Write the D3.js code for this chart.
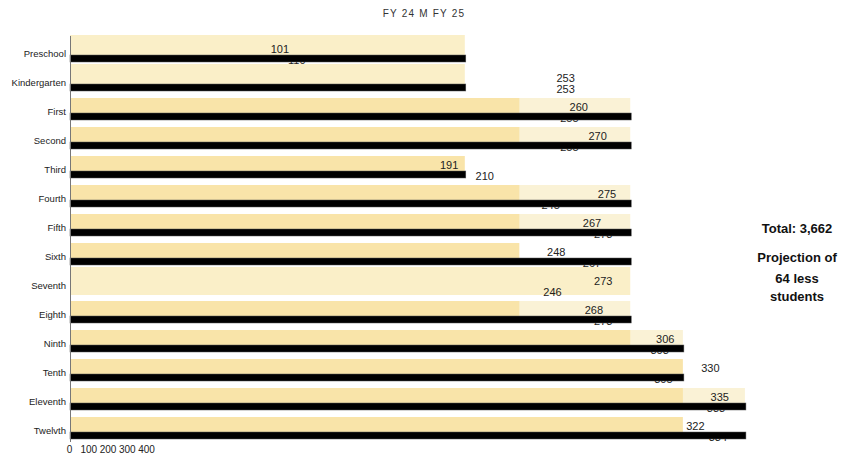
<!DOCTYPE html>
<html>
<head>
<meta charset="utf-8">
<script src="https://cdn.jsdelivr.net/npm/d3@7"></script>
<style>
  body { margin: 0; background: #fff; }
  svg { font-family: "Liberation Sans", Arial, sans-serif; }
</style>
</head>
<body>
<svg width="851" height="454"></svg>
<script>
var grades = ['Preschool', 'Kindergarten', 'First', 'Second', 'Third', 'Fourth', 'Fifth',
    'Sixth', 'Seventh', 'Eighth', 'Ninth', 'Tenth', 'Eleventh', 'Twelvth'];

// printed values
var fy24 = [101, 253, 260, 270, 191, 275, 267, 248, 273, 268, 306, 330, 335, 322];
var fy25 = [110, 253, 255, 255, 210, 245, 273, 267, 246, 273, 303, 305, 333, 334];

// bar lengths as drawn (they do not follow the printed values)
var goldBar  = [0, 0, 239, 239, 210, 239, 239, 239, 0, 239, 298, 326, 326, 326];
var creamBar = [210, 210, 298, 298, 0, 298, 298, 0, 298, 298, 326, 0, 359, 0];
var blackBar = [210, 210, 298, 298, 210, 298, 298, 298, 0, 298, 326, 326, 359, 359];

var axisTicks = [0, 100, 200, 300, 400];
var legendText = 'FY 24 M FY 25';
var sideText = ['Total: 3,662', 'Projection of', '64 less', 'students'];

var svg = d3.select('svg');

var x = d3.scaleLinear().domain([0, 400]).range([70, 822]);
var y = d3.scaleBand().domain(grades).range([40, 446]);

var rows = grades.map(function (g, i) {
    return { g: g, gold: goldBar[i], cream: creamBar[i], black: blackBar[i], a: fy24[i], b: fy25[i] };
});

var row = svg.selectAll('g.row').data(rows).enter().append('g')
    .attr('class', 'row')
    .attr('transform', function (d) { return 'translate(0,' + y(d.g) + ')'; });

// cream layer
row.filter(function (d) { return d.cream > 0; })
    .append('rect')
    .attr('x', x(0))
    .attr('y', function (d) { return d.gold > 0 ? 0 : -5; })
    .attr('width', function (d) { return x(d.cream) - x(0); })
    .attr('height', function (d) {
        if (d.gold > 0) return 15;
        return d.black > 0 ? 21 : 28;
    })
    .attr('fill', function (d) { return d.gold > 0 ? '#faf2d6' : '#faefc8'; });

// gold layer
row.filter(function (d) { return d.gold > 0; })
    .append('rect')
    .attr('x', x(0))
    .attr('y', 0)
    .attr('width', function (d) { return x(d.gold) - x(0); })
    .attr('height', 15)
    .attr('fill', '#f9e4a9');

// labels (second one sits under the black bar)
row.append('text')
    .attr('x', function (d) { return x(d.a) + 20; })
    .attr('y', 9)
    .attr('dy', '0.35em')
    .attr('text-anchor', 'middle')
    .attr('font-size', 11)
    .attr('fill', '#222')
    .text(function (d) { return d.a; });

row.append('text')
    .attr('x', function (d) { return x(d.b) + 20; })
    .attr('y', 20)
    .attr('dy', '0.35em')
    .attr('text-anchor', 'middle')
    .attr('font-size', 11)
    .attr('fill', '#222')
    .text(function (d) { return d.b; });

// black layer
row.filter(function (d) { return d.black > 0; })
    .append('rect')
    .attr('x', x(0))
    .attr('y', 15)
    .attr('width', function (d) { return x(d.black) - x(0) + 1; })
    .attr('height', 7)
    .attr('fill', '#000')
    .attr('stroke', '#555')
    .attr('stroke-width', 0.5);

// category labels
row.append('text')
    .attr('x', 66)
    .attr('y', 14)
    .attr('dy', '0.35em')
    .attr('text-anchor', 'end')
    .attr('font-size', 9.5)
    .attr('fill', '#222')
    .text(function (d) { return d.g; });

// y axis line
svg.append('line')
    .attr('x1', 70.5).attr('x2', 70.5)
    .attr('y1', 36).attr('y2', 442)
    .attr('stroke', '#777');

// squeezed x axis labels
var xs = d3.scaleLinear().domain([0, 400]).range([69, 146]);
var ax = svg.append('g')
    .attr('transform', 'translate(0,441)')
    .call(d3.axisBottom(xs).tickValues(axisTicks).tickSize(0).tickPadding(5));
ax.select('.domain').remove();
ax.selectAll('text').attr('font-size', 10).attr('fill', '#222')
    .attr('font-family', '"Liberation Sans", Arial, sans-serif');

// legend line
svg.append('text')
    .attr('x', 424).attr('y', 17)
    .attr('text-anchor', 'middle')
    .attr('font-size', 10)
    .attr('letter-spacing', 1.2)
    .attr('fill', '#333')
    .text(legendText);

// side notes
var sideY = [228, 257, 278, 296];
svg.selectAll('text.side').data(sideText).enter().append('text')
    .attr('class', 'side')
    .attr('x', 797)
    .attr('y', function (d, i) { return sideY[i]; })
    .attr('dy', '0.35em')
    .attr('text-anchor', 'middle')
    .attr('font-size', 13)
    .attr('font-weight', 'bold')
    .attr('fill', '#111')
    .text(function (d) { return d; });
</script>
</body>
</html>
